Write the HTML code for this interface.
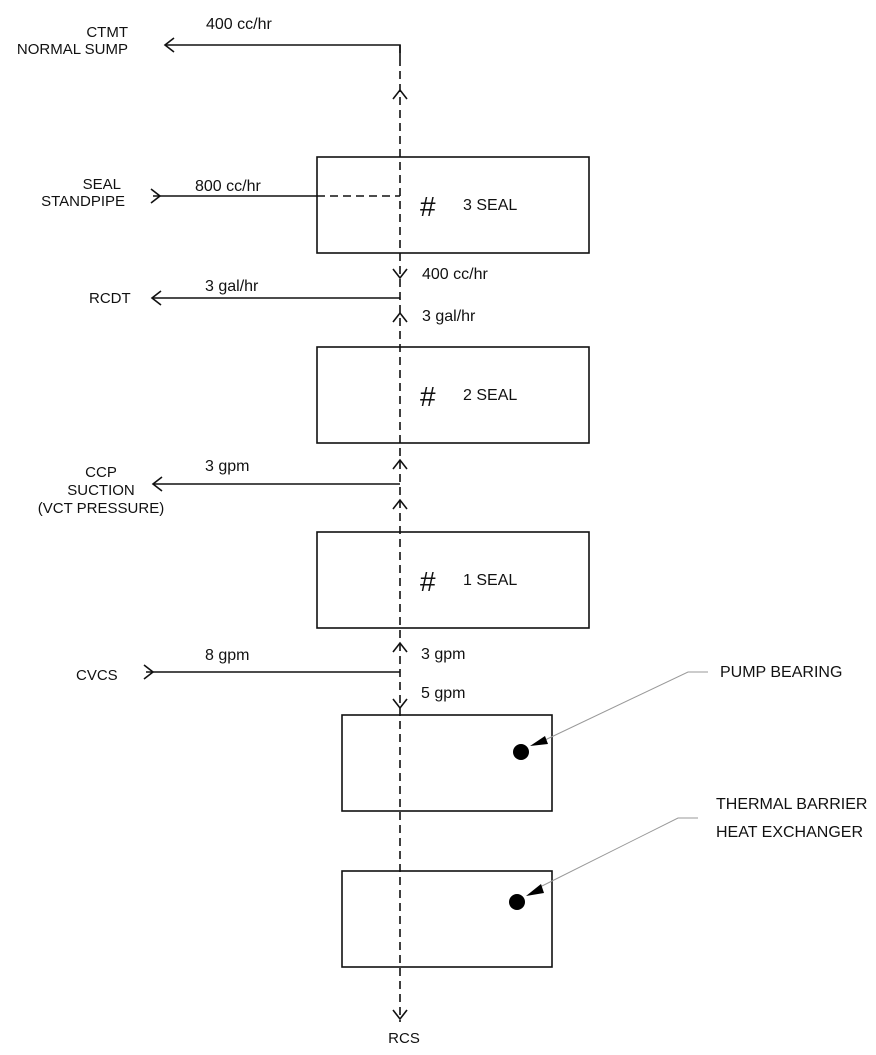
<!DOCTYPE html>
<html><head><meta charset="utf-8"><style>
html,body{margin:0;padding:0;background:#fff;}
svg{display:block;}
text{font-family:"Liberation Sans",Arial,sans-serif;font-size:16px;fill:#111;}
.l{font-size:15px;}
</style></head><body>
<svg width="876" height="1055" viewBox="0 0 876 1055" xmlns="http://www.w3.org/2000/svg">
<g stroke="#111" stroke-width="1.6" fill="none">
<line x1="400" y1="45" x2="400" y2="1022" stroke-dasharray="8,5"/>
<rect x="317" y="157" width="272" height="96"/>
<rect x="317" y="347" width="272" height="96"/>
<rect x="317" y="532" width="272" height="96"/>
<rect x="342" y="715" width="210" height="96"/>
<rect x="342" y="871" width="210" height="96"/>
<polyline points="400,58 400,45 165,45"/>
<polyline points="174,38 165,45 174,52"/>
<line x1="153" y1="196" x2="317" y2="196"/>
<line x1="317" y1="196" x2="400" y2="196" stroke-dasharray="8,5"/>
<polyline points="151,189 160,196 151,203"/>
<line x1="400" y1="298" x2="152" y2="298"/>
<polyline points="161,291 152,298 161,305"/>
<line x1="400" y1="484" x2="153" y2="484"/>
<polyline points="162,477 153,484 162,491"/>
<line x1="400" y1="672" x2="146" y2="672"/>
<polyline points="144,665 153,672 144,679"/>
<polyline points="393,99 400,90 407,99"/>
<polyline points="393,269 400,278 407,269"/>
<polyline points="393,322 400,313 407,322"/>
<polyline points="393,469 400,460 407,469"/>
<polyline points="393,509 400,500 407,509"/>
<polyline points="393,652 400,643 407,652"/>
<polyline points="393,699 400,708 407,699"/>
<polyline points="393,1010 400,1019 407,1010"/>
</g>
<g stroke="#999" stroke-width="1" fill="none">
<polyline points="545,740 688,672 708,672"/>
<polyline points="540,887 678,818 698,818"/>
</g>
<circle cx="521" cy="752" r="8" fill="#000"/>
<polygon points="530,746 545,736 548,744" fill="#000"/>
<circle cx="517" cy="902" r="8" fill="#000"/>
<polygon points="526,896 541,884 544,893" fill="#000"/>
<text x="206" y="29">400 cc/hr</text>
<text class="l" x="128" y="37" text-anchor="end">CTMT</text>
<text class="l" x="128" y="54" text-anchor="end">NORMAL SUMP</text>
<text class="l" x="121" y="189" text-anchor="end">SEAL</text>
<text class="l" x="125" y="206" text-anchor="end">STANDPIPE</text>
<text x="195" y="191">800 cc/hr</text>
<text x="420" y="216" style="font-size:28px">#</text>
<text x="463" y="210">3 SEAL</text>
<text x="422" y="279">400 cc/hr</text>
<text x="205" y="291">3 gal/hr</text>
<text class="l" x="89" y="303">RCDT</text>
<text x="422" y="321">3 gal/hr</text>
<text x="420" y="406" style="font-size:28px">#</text>
<text x="463" y="400">2 SEAL</text>
<text class="l" x="101" y="477" text-anchor="middle">CCP</text>
<text class="l" x="101" y="495" text-anchor="middle">SUCTION</text>
<text class="l" x="101" y="513" text-anchor="middle">(VCT PRESSURE)</text>
<text x="205" y="471">3 gpm</text>
<text x="420" y="591" style="font-size:28px">#</text>
<text x="463" y="585">1 SEAL</text>
<text x="205" y="660">8 gpm</text>
<text x="421" y="659">3 gpm</text>
<text class="l" x="76" y="680">CVCS</text>
<text x="421" y="698">5 gpm</text>
<text x="720" y="677">PUMP BEARING</text>
<text x="716" y="809">THERMAL BARRIER</text>
<text x="716" y="837">HEAT EXCHANGER</text>
<text class="l" x="404" y="1043" text-anchor="middle">RCS</text>
</svg>
</body></html>
